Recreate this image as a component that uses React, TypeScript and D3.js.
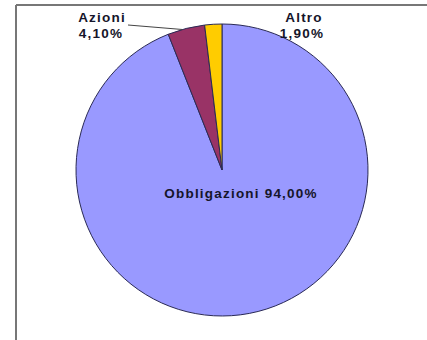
import React from "react";
import * as d3 from "d3";

const categories = ["Obbligazioni", "Azioni", "Altro"];
const values = [94.0, 4.1, 1.9];
const labels = ["94,00%", "4,10%", "1,90%"];
const colors = ["#9999FF", "#993366", "#FFCC00"];

export default function App() {
  const W = 427, H = 340;
  const cx = 222, cy = 170, r = 146;
  const data = categories.map((c, i) => ({ c, v: values[i], l: labels[i], col: colors[i] }));
  const pie = d3.pie<any>().value((d: any) => d.v).sort(null);
  const arcs = pie(data);
  const arc = d3.arc<any>().innerRadius(0).outerRadius(r);
  const font = { fontFamily: "Arial, 'Liberation Sans', sans-serif", fontWeight: 700, fontSize: 13.5, letterSpacing: 1.2, fill: "#15152a" } as any;
  const az = arcs[1];
  const azMid = (az.startAngle + az.endAngle) / 2;
  const azPt = [Math.sin(azMid) * r, -Math.cos(azMid) * r];
  return (
    <svg width={W} height={H} style={{ position: "absolute", left: 0, top: 0, background: "#fff" }}>
      <rect x={0} y={0} width={W} height={H} fill="#fff" />
      <line x1={16} y1={5} x2={W} y2={5} stroke="#777" strokeWidth={2} />
      <line x1={16} y1={5} x2={16} y2={H} stroke="#777" strokeWidth={2} />
      <g transform={`translate(${cx},${cy})`}>
        {arcs.map((a, i) => (
          <path key={i} d={arc(a) as string} fill={a.data.col} stroke="#2a2a55" strokeWidth={1} />
        ))}
        <line x1={128 - cx} y1={25 - cy} x2={azPt[0] - 4} y2={azPt[1] + 1} stroke="#444" strokeWidth={1} />
      </g>
      <text x={102} y={22} textAnchor="middle" style={font}>{categories[1]}</text>
      <text x={101} y={38} textAnchor="middle" style={font}>{labels[1]}</text>
      <text x={304} y={22} textAnchor="middle" style={font}>{categories[2]}</text>
      <text x={302} y={38} textAnchor="middle" style={font}>{labels[2]}</text>
      <text x={241} y={198} textAnchor="middle" style={font}>{`${categories[0]} ${labels[0]}`}</text>
    </svg>
  );
}
